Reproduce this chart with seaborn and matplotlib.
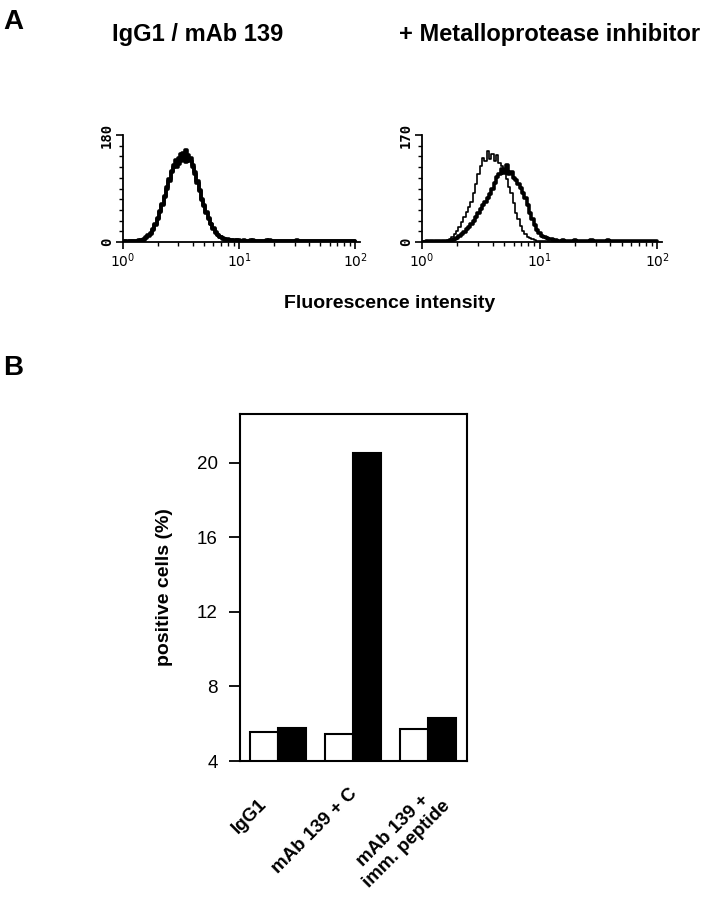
import numpy as np
import pandas as pd
import matplotlib
matplotlib.use("Agg")
import matplotlib.pyplot as plt
import seaborn as sns
from matplotlib.ticker import FixedLocator, LogLocator, NullFormatter
from matplotlib.transforms import ScaledTranslation

# ---------------- data ----------------
# Panel A: flow cytometry histograms, log10 fluorescence channel (0..2)
log_channel = [round(0.02 * i, 2) for i in range(101)]

igg1_counts = [0, 1, 0, 1, 1, 2, 1, 3, 2, 4,
               7, 10, 15, 22, 30, 40, 52, 64, 78, 92,
               106, 118, 130, 126, 142, 136, 150, 134, 146, 137,
               126, 118, 102, 86, 72, 60, 50, 40, 31, 23,
               16, 12, 8, 6, 4, 5, 3, 4, 2, 3,
               2, 2, 3, 1, 2, 2, 3, 1, 2, 2,
               1, 2, 2, 3, 1, 2, 1, 2, 2, 1,
               2, 1, 2, 2, 1, 3, 1, 2, 1, 2,
               2, 1, 2, 1, 2, 2, 1, 2, 1, 2,
               1, 2, 1, 2, 2, 1, 2, 1, 2, 1, 2]

mab139_counts = [1, 0, 1, 0, 2, 1, 2, 2, 3, 5,
                 8, 11, 14, 20, 28, 38, 50, 62, 76, 90,
                 102, 120, 126, 138, 132, 148, 140, 155, 138, 142,
                 130, 114, 100, 88, 70, 62, 48, 38, 30, 22,
                 15, 11, 9, 5, 5, 3, 4, 2, 3, 2,
                 3, 1, 2, 2, 1, 3, 2, 2, 1, 2,
                 2, 1, 3, 2, 2, 1, 2, 1, 2, 2,
                 1, 2, 1, 2, 2, 1, 2, 2, 1, 2,
                 1, 2, 2, 1, 2, 1, 2, 1, 2, 2,
                 2, 1, 2, 1, 1, 2, 1, 2, 1, 2, 1]

inhib_control_counts = [0, 1, 0, 1, 0, 1, 1, 0, 1, 2,
                        2, 3, 5, 8, 12, 18, 24, 32, 40, 48,
                        56, 64, 78, 92, 108, 120, 134, 128, 144, 132,
                        140, 128, 138, 126, 120, 110, 100, 88, 78, 62,
                        46, 36, 26, 18, 12, 8, 6, 4, 3, 2,
                        2, 1, 2, 1, 2, 1, 1, 2, 1, 2,
                        1, 2, 1, 1, 2, 1, 2, 1, 1, 2,
                        1, 1, 2, 1, 2, 1, 1, 2, 1, 1,
                        2, 1, 1, 2, 1, 2, 1, 1, 2, 1,
                        1, 2, 1, 1, 2, 1, 1, 2, 1, 1, 2]

inhib_mab139_counts = [0, 0, 1, 0, 1, 0, 1, 1, 0, 1,
                       1, 2, 2, 3, 4, 6, 9, 12, 16, 20,
                       24, 28, 34, 40, 46, 52, 58, 64, 70, 76,
                       84, 94, 103, 108, 116, 110, 122, 108, 112, 102,
                       98, 92, 86, 78, 70, 58, 46, 36, 27, 19,
                       14, 10, 8, 6, 5, 4, 3, 3, 2, 2,
                       3, 2, 2, 1, 2, 3, 2, 1, 2, 2,
                       1, 2, 3, 2, 1, 2, 2, 1, 2, 3,
                       2, 1, 2, 2, 1, 2, 1, 2, 2, 1,
                       2, 2, 1, 2, 1, 2, 2, 1, 2, 1, 2]

# Panel B: bar chart
groups = ["IgG1", "mAb 139 + C", "mAb 139 +\nimm. peptide"]
series = ["open", "filled"]
open_values = [5.55, 5.45, 5.72]
filled_values = [5.78, 20.55, 6.30]
b_yticks = [4, 8, 12, 16, 20]

# ---------------- style ----------------
sns.set_theme(style="ticks")
plt.rcParams["font.family"] = ["Liberation Sans", "DejaVu Sans"]
plt.rcParams["text.color"] = "black"
plt.rcParams["axes.labelcolor"] = "black"
plt.rcParams["xtick.color"] = "black"
plt.rcParams["ytick.color"] = "black"
plt.rcParams["axes.edgecolor"] = "black"

W, H = 702, 900
fig = plt.figure(figsize=(W / 100, H / 100), dpi=100)


def fr(x0, y0, x1, y1):
    return [x0 / W, 1 - y1 / H, (x1 - x0) / W, (y1 - y0) / H]


axL = fig.add_axes(fr(123, 135, 360, 242))
axR = fig.add_axes(fr(422, 135, 662, 242))
axB = fig.add_axes(fr(240, 414, 467, 761))

fluor = 10 ** np.array(log_channel)


def hist_panel(ax, curves, ymax):
    for counts, lw in curves:
        sns.lineplot(x=fluor, y=counts, color="black", lw=lw, ax=ax,
                     estimator=None, drawstyle="steps-mid")
    ax.set_xscale("log")
    ax.set_xlim(1, 10 ** 2.04)
    ax.set_ylim(0, ymax)
    for s in ("top", "right"):
        ax.spines[s].set_visible(False)
    for s in ("left", "bottom"):
        ax.spines[s].set_linewidth(1.3)
        ax.spines[s].set_color("black")
    ax.set_xticks([1, 10, 100])
    ax.set_xticklabels([r"$10^0$", r"$10^1$", r"$10^2$"])
    ax.xaxis.set_minor_locator(LogLocator(base=10, subs=np.arange(2, 10)))
    ax.xaxis.set_minor_formatter(NullFormatter())
    ax.set_yticks([0, ymax])
    ax.set_yticklabels(["0", str(ymax)], rotation=90, va="center")
    ax.yaxis.set_minor_locator(FixedLocator([ymax * k / 10 for k in range(1, 10)]))
    ax.tick_params(which="major", length=5, width=1.2, color="black",
                   labelsize=10, pad=1.5, labelcolor="black")
    ax.tick_params(which="minor", length=3, width=1.0, color="black")
    for lab in ax.get_xticklabels() + ax.get_yticklabels():
        lab.set_fontweight("bold")
        lab.set_family("DejaVu Sans Mono")
    ax.set_xlabel("")
    ax.set_ylabel("")
    ax.patch.set_alpha(0)


hist_panel(axL, [(igg1_counts, 2.6), (mab139_counts, 2.6)], 180)
hist_panel(axR, [(inhib_control_counts, 1.2), (inhib_mab139_counts, 2.6)], 170)

# ---------------- panel B ----------------
dfB = pd.DataFrame({
    "group": groups * 2,
    "series": [series[0]] * 3 + [series[1]] * 3,
    "value": open_values + filled_values,
})
sns.barplot(data=dfB, x="group", y="value", hue="series", order=groups,
            hue_order=series, palette=["white", "black"], edgecolor="black",
            linewidth=1.5, width=0.75, ax=axB, legend=False, saturation=1)
axB.set_xlim(-0.51, 2.52)
axB.set_ylim(4, 22.63)
axB.set_yticks(b_yticks)
for s in axB.spines.values():
    s.set_linewidth(1.5)
    s.set_color("black")
axB.tick_params(axis="y", length=8, width=1.3, color="black", labelsize=13.5,
                pad=8, labelcolor="black")
axB.tick_params(axis="x", length=0, labelsize=13.5, pad=22, labelcolor="black")
axB.set_xlabel("")
axB.set_ylabel("positive cells (%)", fontsize=14, fontweight="bold", labelpad=17,
               color="black")
offsets = [(-20, 4), (-5, -6), (0, -8)]  # pixels, dy positive = down
for lab, (dx, dy) in zip(axB.get_xticklabels(), offsets):
    lab.set_rotation(45)
    lab.set_ha("right")
    lab.set_va("top")
    lab.set_rotation_mode("anchor")
    lab.set_fontweight("bold")
    lab.set_multialignment("center")
    lab.set_transform(lab.get_transform() +
                      ScaledTranslation(dx / 100, -dy / 100, fig.dpi_scale_trans))

# ---------------- texts ----------------
fig.text(13 / W, 1 - 22 / H, "A", fontsize=20, fontweight="bold", ha="center", va="center")
fig.text(13 / W, 1 - 368 / H, "B", fontsize=20, fontweight="bold", ha="center", va="center")
fig.text(198 / W, 1 - 34 / H, "IgG1 / mAb 139", fontsize=17, fontweight="bold",
         ha="center", va="center")
fig.text(550 / W, 1 - 34 / H, "+ Metalloprotease inhibitor", fontsize=17,
         fontweight="bold", ha="center", va="center")
fig.text(390 / W, 1 - 303 / H, "Fluorescence intensity", fontsize=14,
         fontweight="bold", ha="center", va="center")

fig.savefig("out.png", dpi=100, facecolor="white")
